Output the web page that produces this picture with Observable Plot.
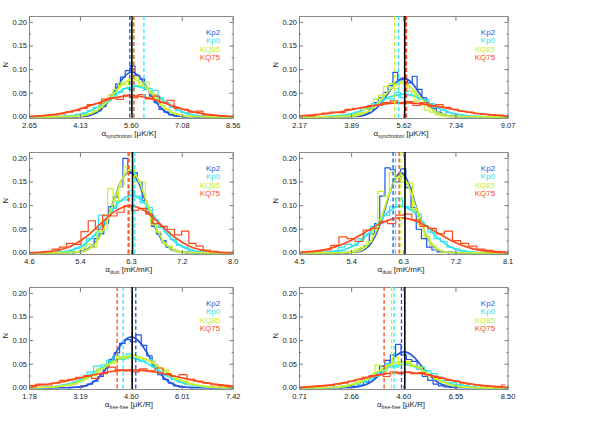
<!DOCTYPE html>
<html><head><meta charset="utf-8">
<script src="https://cdn.jsdelivr.net/npm/d3@7"></script>
<script src="https://cdn.jsdelivr.net/npm/@observablehq/plot@0.6"></script>
<style>
body{margin:0;background:#fff;}
#fig{position:relative;width:598px;height:423px;font-family:"Liberation Sans",Arial,sans-serif;overflow:hidden;}
#fig svg{position:absolute;}
.xlab{position:absolute;font-size:8px;line-height:10px;color:#222;white-space:nowrap;transform:translateX(-50%);}
.xlab sub{font-size:5px;vertical-align:-1.5px;line-height:0;}
</style></head><body><div id="fig"></div><script>
// ---------- series ----------
const seriesNames = ["Kp2", "Kp0", "KQ85", "KQ75"];
const seriesColors = ["#1f55e6", "#2fe4ee", "#c8f22c", "#ff4a1c"];

// ---------- shared y axis ----------
const yDomain = [-0.0035, 0.2125];
const yTicks = [0, 0.05, 0.10, 0.15, 0.20];
const yTickLabels = ["0.00", "0.05", "0.10", "0.15", "0.20"];
const yMinorTicks = [0.025, 0.075, 0.125, 0.175];

// ---------- x axes ----------
const xDomains = [[2.65, 8.56], [2.17, 9.07], [4.6, 8.0], [4.5, 8.1], [1.78, 7.42], [0.71, 8.50]];
const xTicks = [
  [2.65, 4.1275, 5.605, 7.0825, 8.56],
  [2.17, 3.895, 5.62, 7.345, 9.07],
  [4.6, 5.45, 6.3, 7.15, 8.0],
  [4.5, 5.4, 6.3, 7.2, 8.1],
  [1.78, 3.19, 4.60, 6.01, 7.42],
  [0.71, 2.6575, 4.605, 6.5525, 8.50]
];
const xTickLabels = [
  ["2.65", "4.13", "5.60", "7.08", "8.56"],
  ["2.17", "3.89", "5.62", "7.34", "9.07"],
  ["4.6", "5.4", "6.3", "7.2", "8.0"],
  ["4.5", "5.4", "6.3", "7.2", "8.1"],
  ["1.78", "3.19", "4.60", "6.01", "7.42"],
  ["0.71", "2.66", "4.60", "6.55", "8.50"]
];
const xTitleSymbol = ["α", "α", "α", "α", "α", "α"];
const xTitleSub = ["synchrotron", "synchrotron", "dust", "dust", "free-free", "free-free"];
const xTitleUnit = ["[μK/K]", "[μK/K]", "[mK/mK]", "[mK/mK]", "[μK/R]", "[μK/R]"];

// ---------- true value (solid black) and series means (dashed), order Kp2, Kp0, KQ85, KQ75 ----------
const truthValues = [5.62, 5.65, 6.32, 6.32, 4.623, 4.642];
const syncL_means = [5.56, 5.97, 5.65, 5.68];
const syncR_means = [5.66, 5.45, 5.32, 5.71];
const dustL_means = [6.258, 6.358, 6.25, 6.248];
const dustR_means = [6.115, 6.157, 6.25, 6.22];
const ffL_means = [4.723, 4.374, 4.61, 4.208];
const ffR_means = [4.519, 4.243, 4.145, 3.869];

// ---------- histogram bins: first bin centre and bin width per series ----------
const syncL_binStart = [3.96, 3.23, 3.80, 2.75];
const syncL_binWidth = [0.14, 0.17, 0.15, 0.21];
const syncR_binStart = [3.74, 2.94, 3.34, 2.30];
const syncR_binWidth = [0.16, 0.19, 0.17, 0.25];
const dustL_binStart = [5.32, 5.00, 5.32, 4.80];
const dustL_binWidth = [0.08, 0.10, 0.09, 0.12];
const dustR_binStart = [5.30, 4.90, 5.20, 4.55];
const dustR_binWidth = [0.09, 0.11, 0.10, 0.14];
const ffL_binStart = [2.85, 2.20, 2.30, 1.85];
const ffL_binWidth = [0.15, 0.18, 0.18, 0.22];
const ffR_binStart = [2.20, 1.90, 2.10, 0.84];
const ffR_binWidth = [0.20, 0.24, 0.22, 0.26];

// ---------- histogram values ----------
const syncL_hist_Kp2 = [0,.001,.002,.004,.008,.013,.022,.036,.047,.070,.084,.098,.108,.088,.080,.058,.044,.030,.016,.010,.004,.002,.001,0];
const syncL_hist_Kp0 = [0,.0004,.001,.002,.003,.005,.008,.013,.020,.030,.034,.042,.052,.060,.058,.066,.062,.060,.056,.040,.030,.020,.013,.009,.005,.003,.002,.001,0];
const syncL_hist_KQ85 = [0,.001,.002,.004,.007,.012,.020,.034,.046,.058,.072,.068,.078,.084,.066,.074,.050,.038,.024,.016,.008,.005,.002,.001,0];
const syncL_hist_KQ75 = [.001,.002,.003,.004,.006,.010,.013,.018,.026,.028,.038,.040,.037,.046,.040,.047,.038,.044,.030,.035,.018,.016,.010,.012,.004,.003,.002,.001];

const syncR_hist_Kp2 = [0,.001,.002,.005,.008,.016,.030,.040,.052,.066,.094,.078,.080,.072,.086,.058,.040,.028,.018,.010,.005,.002,.001,0];
const syncR_hist_Kp0 = [.0004,.001,.002,.003,.004,.006,.010,.015,.018,.028,.030,.040,.038,.052,.040,.054,.046,.038,.036,.028,.020,.014,.009,.006,.004,.002,.001,.0008,.0004];
const syncR_hist_KQ85 = [0,.0005,.001,.002,.005,.009,.016,.022,.038,.046,.064,.070,.060,.074,.064,.054,.034,.026,.014,.010,.004,.002,.001,.0004,0];
const syncR_hist_KQ75 = [.003,.002,.005,.008,.010,.009,.016,.018,.020,.024,.025,.030,.034,.028,.032,.024,.030,.022,.026,.020,.016,.012,.010,.007,.005,.004,.003,.001];

const dustL_hist_Kp2 = [0,.002,.004,.008,.012,.030,.040,.062,.098,.118,.140,.200,.168,.170,.150,.110,.084,.056,.040,.026,.012,.006,.003,.001,0];
const dustL_hist_Kp0 = [.001,.002,.003,.006,.010,.014,.030,.036,.080,.078,.094,.110,.112,.132,.120,.106,.096,.070,.054,.044,.028,.016,.012,.005,.003,.001];
const dustL_hist_KQ85 = [.001,.002,.010,.018,.012,.045,.050,.136,.110,.140,.182,.176,.150,.150,.090,.060,.044,.020,.014,.006,.002,0];
const dustL_hist_KQ75 = [.002,.003,.008,.012,.020,.018,.045,.068,.050,.080,.078,.086,.100,.090,.094,.082,.062,.056,.050,.038,.046,.020,.014,.006,.003,.001];

const dustR_hist_Kp2 = [0,.001,.003,.008,.014,.040,.062,.120,.180,.176,.150,.178,.138,.096,.050,.030,.012,.006,.002,.001,0];
const dustR_hist_Kp0 = [.001,.002,.004,.012,.018,.016,.030,.040,.056,.062,.080,.098,.116,.098,.092,.082,.058,.044,.030,.024,.012,.008,.004,.002,.001];
const dustR_hist_KQ85 = [0,.001,.003,.008,.012,.024,.050,.130,.120,.170,.160,.150,.148,.090,.060,.034,.016,.006,.002,0];
const dustR_hist_KQ75 = [.002,.003,.004,.006,.016,.034,.030,.024,.048,.052,.066,.062,.080,.082,.070,.056,.052,.040,.046,.026,.020,.014,.008,.005,.003,.002];

const ffL_hist_Kp2 = [0,.001,.002,.004,.008,.014,.024,.042,.060,.074,.094,.102,.098,.112,.090,.068,.048,.028,.018,.010,.004,.002,.001,0];
const ffL_hist_Kp0 = [.001,.002,.003,.006,.008,.012,.018,.034,.046,.048,.058,.068,.060,.072,.062,.056,.060,.044,.030,.026,.018,.012,.008,.005,.003,.002,.001];
const ffL_hist_KQ85 = [.001,.002,.004,.005,.008,.014,.022,.026,.040,.050,.052,.066,.062,.070,.064,.060,.056,.042,.038,.026,.018,.014,.008,.005,.003,.002,.001];
const ffL_hist_KQ75 = [.002,.008,.006,.010,.016,.018,.022,.026,.020,.030,.044,.038,.036,.034,.040,.036,.042,.030,.024,.028,.018,.014,.010,.006,.004,.002];

const ffR_hist_Kp2 = [0,.001,.002,.003,.006,.012,.018,.032,.046,.058,.070,.092,.070,.060,.056,.040,.024,.016,.008,.004,.002,.001,0];
const ffR_hist_Kp0 = [.001,.002,.003,.005,.008,.012,.018,.024,.034,.052,.044,.050,.052,.046,.044,.036,.030,.022,.016,.011,.007,.004,.002,.001,0];
const ffR_hist_KQ85 = [.001,.002,.004,.008,.012,.018,.024,.048,.036,.048,.064,.050,.056,.046,.044,.032,.024,.018,.012,.007,.004,.002,.001];
const ffR_hist_KQ75 = [.001,.002,.003,.004,.005,.008,.010,.014,.018,.022,.026,.028,.024,.034,.030,.034,.030,.032,.028,.022,.020,.016,.014,.010,.008,.006,.004,.003,.002,.006];

// ---------- fitted curves, [x, N] points ----------
const syncL_fit_Kp2 = [[2.65,0],[3.505,0],[4.21,.0011],[4.445,.0042],[4.68,.0129],[4.915,.0308],[5.15,.0576],[5.385,.0838],[5.62,.095],[5.855,.0838],[6.09,.0576],[6.325,.0308],[6.56,.0129],[6.795,.0042],[7.03,.0011],[7.735,0],[8.56,0]];
const syncL_fit_Kp0 = [[2.65,0],[3.56,.0007],[3.92,.0029],[4.28,.0088],[4.64,.0211],[5.0,.0394],[5.36,.0574],[5.72,.065],[6.08,.0574],[6.44,.0394],[6.8,.0211],[7.16,.0088],[7.52,.0029],[7.88,.0007],[8.56,0]];
const syncL_fit_KQ85 = [[2.65,0],[3.175,0],[4.0,.0009],[4.275,.0035],[4.55,.0108],[4.825,.026],[5.1,.0485],[5.375,.0706],[5.65,.08],[5.925,.0706],[6.2,.0485],[6.475,.026],[6.75,.0108],[7.025,.0035],[7.3,.0009],[8.125,0],[8.56,0]];
const syncL_fit_KQ75 = [[1.925,.0001],[2.45,.0005],[2.975,.002],[3.5,.0061],[4.025,.0146],[4.55,.0273],[5.075,.0397],[5.6,.045],[6.125,.0397],[6.65,.0273],[7.175,.0146],[7.7,.0061],[8.225,.002],[8.75,.0005],[9.275,.0001]];

const syncR_fit_Kp2 = [[2.17,0],[3.28,0],[4.06,.0009],[4.32,.0036],[4.58,.0111],[4.84,.0266],[5.1,.0497],[5.36,.0724],[5.62,.082],[5.88,.0724],[6.14,.0497],[6.4,.0266],[6.66,.0111],[6.92,.0036],[7.18,.0009],[7.96,0],[9.07,0]];
const syncR_fit_Kp0 = [[1.775,0],[2.625,.0001],[3.05,.0005],[3.475,.0021],[3.9,.0065],[4.325,.0156],[4.75,.0291],[5.175,.0424],[5.6,.048],[6.025,.0424],[6.45,.0291],[6.875,.0156],[7.3,.0065],[7.725,.0021],[8.15,.0005],[8.575,.0001],[9.07,0]];
const syncR_fit_KQ85 = [[2.17,0],[2.94,0],[3.81,.0008],[4.1,.0032],[4.39,.0097],[4.68,.0234],[4.97,.0437],[5.26,.0635],[5.55,.072],[5.84,.0635],[6.13,.0437],[6.42,.0234],[6.71,.0097],[7.0,.0032],[7.29,.0008],[8.16,0],[9.07,0]];
const syncR_fit_KQ75 = [[0.525,.0001],[1.25,.0003],[1.975,.0013],[2.7,.0041],[3.425,.0097],[4.15,.0182],[4.875,.0265],[5.6,.030],[6.325,.0265],[7.05,.0182],[7.775,.0097],[8.5,.0041],[9.225,.0013],[9.95,.0003]];

const dustL_fit_Kp2 = [[4.6,0],[5.01,0],[5.43,.0019],[5.57,.0076],[5.71,.0233],[5.85,.0558],[5.99,.1043],[6.13,.1518],[6.27,.172],[6.41,.1518],[6.55,.1043],[6.69,.0558],[6.83,.0233],[6.97,.0076],[7.11,.0019],[7.53,0],[8.0,0]];
const dustL_fit_Kp0 = [[4.5,0],[5.1,.0014],[5.3,.0054],[5.5,.0165],[5.7,.0396],[5.9,.074],[6.1,.1077],[6.3,.122],[6.5,.1077],[6.7,.074],[6.9,.0396],[7.1,.0165],[7.3,.0054],[7.5,.0014],[8.1,0]];
const dustL_fit_KQ85 = [[4.6,0],[5.02,0],[5.44,.0019],[5.58,.0077],[5.72,.0237],[5.86,.0568],[6.0,.1061],[6.14,.1544],[6.28,.175],[6.42,.1544],[6.56,.1061],[6.7,.0568],[6.84,.0237],[6.98,.0077],[7.12,.0019],[7.54,0],[8.0,0]];
const dustL_fit_KQ75 = [[4.03,0],[4.53,.0002],[4.78,.0011],[5.03,.0044],[5.28,.0135],[5.53,.0325],[5.78,.0607],[6.03,.0883],[6.28,.1],[6.53,.0883],[6.78,.0607],[7.03,.0325],[7.28,.0135],[7.53,.0044],[7.78,.0011],[8.03,.0002]];

const dustR_fit_Kp2 = [[4.5,0],[5.125,0],[5.5,.0019],[5.625,.0075],[5.75,.023],[5.875,.0552],[6.0,.1031],[6.125,.15],[6.25,.17],[6.375,.15],[6.5,.1031],[6.625,.0552],[6.75,.023],[6.875,.0075],[7.0,.0019],[7.375,0],[8.1,0]];
const dustR_fit_Kp0 = [[4.36,0],[4.99,.0011],[5.2,.0043],[5.41,.0134],[5.62,.0321],[5.83,.06],[6.04,.0874],[6.25,.099],[6.46,.0874],[6.67,.06],[6.88,.0321],[7.09,.0134],[7.3,.0043],[7.51,.0011],[8.14,0]];
const dustR_fit_KQ85 = [[4.5,0],[5.07,0],[5.46,.0018],[5.59,.0072],[5.72,.0222],[5.85,.0532],[5.98,.0995],[6.11,.1447],[6.24,.164],[6.37,.1447],[6.5,.0995],[6.63,.0532],[6.76,.0222],[6.89,.0072],[7.02,.0018],[7.41,0],[8.1,0]];
const dustR_fit_KQ75 = [[3.55,0],[4.15,.0002],[4.45,.0008],[4.75,.0032],[5.05,.01],[5.35,.024],[5.65,.0449],[5.95,.0653],[6.25,.074],[6.55,.0653],[6.85,.0449],[7.15,.024],[7.45,.01],[7.75,.0032],[8.05,.0008],[8.35,.0002]];

const ffL_fit_Kp2 = [[1.78,0],[2.35,0],[3.1,.0012],[3.35,.0047],[3.6,.0146],[3.85,.0351],[4.1,.0655],[4.35,.0953],[4.6,.108],[4.85,.0953],[5.1,.0655],[5.35,.0351],[5.6,.0146],[5.85,.0047],[6.1,.0012],[6.85,0],[7.42,0]];
const ffL_fit_Kp0 = [[0.9,0],[1.7,.0001],[2.1,.0007],[2.5,.0029],[2.9,.0088],[3.3,.0211],[3.7,.0394],[4.1,.0574],[4.5,.065],[4.9,.0574],[5.3,.0394],[5.7,.0211],[6.1,.0088],[6.5,.0029],[6.9,.0007],[7.3,.0001],[8.1,0]];
const ffL_fit_KQ85 = [[1.02,0],[1.82,.0001],[2.22,.0008],[2.62,.003],[3.02,.0092],[3.42,.0221],[3.82,.0412],[4.22,.06],[4.62,.068],[5.02,.06],[5.42,.0412],[5.82,.0221],[6.22,.0092],[6.62,.003],[7.02,.0008],[7.42,.0001],[8.22,0]];
const ffL_fit_KQ75 = [[0.05,.0001],[0.7,.0004],[1.35,.0017],[2.0,.0051],[2.65,.0123],[3.3,.023],[3.95,.0335],[4.6,.038],[5.25,.0335],[5.9,.023],[6.55,.0123],[7.2,.0051],[7.85,.0017],[8.5,.0004]];

const ffR_fit_Kp2 = [[0.71,0],[1.695,0],[2.67,.0008],[2.995,.0033],[3.32,.0103],[3.645,.0247],[3.97,.0461],[4.295,.0671],[4.62,.076],[4.945,.0671],[5.27,.0461],[5.595,.0247],[5.92,.0103],[6.245,.0033],[6.57,.0008],[7.545,0],[8.5,0]];
const ffR_fit_Kp0 = [[0.275,0],[1.225,.0001],[1.7,.0006],[2.175,.0022],[2.65,.0068],[3.125,.0162],[3.6,.0303],[4.075,.0441],[4.55,.05],[5.025,.0441],[5.5,.0303],[5.975,.0162],[6.45,.0068],[6.925,.0022],[7.4,.0006],[7.875,.0001],[8.825,0]];
const ffR_fit_KQ85 = [[0.45,0],[1.35,.0001],[1.8,.0006],[2.25,.0024],[2.7,.0074],[3.15,.0179],[3.6,.0334],[4.05,.0485],[4.5,.055],[4.95,.0485],[5.4,.0334],[5.85,.0179],[6.3,.0074],[6.75,.0024],[7.2,.0006],[7.65,.0001],[8.55,0]];
const ffR_fit_KQ75 = [[-0.65,.0001],[0.1,.0004],[0.85,.0014],[1.6,.0045],[2.35,.0107],[3.1,.02],[3.85,.0291],[4.6,.033],[5.35,.0291],[6.1,.02],[6.85,.0107],[7.6,.0045],[8.35,.0014],[9.1,.0004]];

// ---------- assemble panels ----------
const panels = [
  {hists: [syncL_hist_Kp2, syncL_hist_Kp0, syncL_hist_KQ85, syncL_hist_KQ75], fits: [syncL_fit_Kp2, syncL_fit_Kp0, syncL_fit_KQ85, syncL_fit_KQ75], binStart: syncL_binStart, binWidth: syncL_binWidth, means: syncL_means},
  {hists: [syncR_hist_Kp2, syncR_hist_Kp0, syncR_hist_KQ85, syncR_hist_KQ75], fits: [syncR_fit_Kp2, syncR_fit_Kp0, syncR_fit_KQ85, syncR_fit_KQ75], binStart: syncR_binStart, binWidth: syncR_binWidth, means: syncR_means},
  {hists: [dustL_hist_Kp2, dustL_hist_Kp0, dustL_hist_KQ85, dustL_hist_KQ75], fits: [dustL_fit_Kp2, dustL_fit_Kp0, dustL_fit_KQ85, dustL_fit_KQ75], binStart: dustL_binStart, binWidth: dustL_binWidth, means: dustL_means},
  {hists: [dustR_hist_Kp2, dustR_hist_Kp0, dustR_hist_KQ85, dustR_hist_KQ75], fits: [dustR_fit_Kp2, dustR_fit_Kp0, dustR_fit_KQ85, dustR_fit_KQ75], binStart: dustR_binStart, binWidth: dustR_binWidth, means: dustR_means},
  {hists: [ffL_hist_Kp2, ffL_hist_Kp0, ffL_hist_KQ85, ffL_hist_KQ75], fits: [ffL_fit_Kp2, ffL_fit_Kp0, ffL_fit_KQ85, ffL_fit_KQ75], binStart: ffL_binStart, binWidth: ffL_binWidth, means: ffL_means},
  {hists: [ffR_hist_Kp2, ffR_hist_Kp0, ffR_hist_KQ85, ffR_hist_KQ75], fits: [ffR_fit_Kp2, ffR_fit_Kp0, ffR_fit_KQ85, ffR_fit_KQ75], binStart: ffR_binStart, binWidth: ffR_binWidth, means: ffR_means}
];

// ---------- layout (pixels) ----------
const colFrameLeft = [29, 298.7];
const colFrameWidth = [203.7, 208.6];
const rowFrameTop = [16, 152, 287];
const frameHeight = 102;
const mL = 29, mT = 16, mB = 22, mR = 12;

const fig = document.getElementById("fig");
const fontStack = "'Liberation Sans', Arial, sans-serif";

panels.forEach((p, k) => {
  const col = k % 2, row = Math.floor(k / 2);
  const fw = colFrameWidth[col];
  const W = mL + fw + mR, H = mT + frameHeight + mB;
  const tickLab = xTickLabels[k];
  const marks = [];
  marks.push(Plot.frame({stroke: "#8a8a8a", strokeWidth: 1}));
  p.hists.forEach((n, i) => {
    const pts = n.map((v, j) => [p.binStart[i] + j * p.binWidth[i], v]);
    marks.push(Plot.line(pts, {x: d => d[0], y: d => d[1], curve: "step", stroke: seriesColors[i], strokeWidth: 1.2, clip: true}));
    marks.push(Plot.line(p.fits[i], {x: d => d[0], y: d => d[1], curve: "monotone-x", stroke: seriesColors[i], strokeWidth: 1.7, clip: true}));
  });
  p.means.forEach((m, i) => {
    marks.push(Plot.ruleX([m], {x: d => d, stroke: seriesColors[i], strokeWidth: 1.3, strokeDasharray: "4,2.5"}));
  });
  marks.push(Plot.ruleX([truthValues[k]], {x: d => d, stroke: "#000", strokeWidth: 1.6}));
  // axes: inward ticks on all four sides
  marks.push(Plot.axisX(xTicks[k], {anchor: "bottom", tickSize: -4, tickFormat: () => "", stroke: "#777", label: null}));
  marks.push(Plot.axisX(xTicks[k], {anchor: "top", tickSize: -4, tickFormat: () => "", stroke: "#777", label: null}));
  marks.push(Plot.axisX(xTicks[k], {anchor: "bottom", tickSize: 0, tickPadding: 4, tickFormat: (d, i) => tickLab[i], fill: "#222", label: null}));
  marks.push(Plot.axisY(yTicks, {anchor: "left", tickSize: -4, tickFormat: () => "", stroke: "#777", label: null}));
  marks.push(Plot.axisY(yTicks, {anchor: "right", tickSize: -4, tickFormat: () => "", stroke: "#777", label: null}));
  marks.push(Plot.axisY(yMinorTicks, {anchor: "left", tickSize: -2, tickFormat: () => "", stroke: "#777", label: null}));
  marks.push(Plot.axisY(yMinorTicks, {anchor: "right", tickSize: -2, tickFormat: () => "", stroke: "#777", label: null}));
  marks.push(Plot.axisY(yTicks, {anchor: "left", tickSize: 0, tickPadding: 2.5, tickFormat: (d, i) => yTickLabels[i], fill: "#222", label: null}));
  marks.push(Plot.text(["N"], {frameAnchor: "left", dx: -23.5, rotate: -90, fontSize: 7.5, fill: "#222"}));
  seriesNames.forEach((s, i) => {
    marks.push(Plot.text([s], {frameAnchor: "top-right", dx: -13, dy: 16.3 + 8.1 * i, textAnchor: "end", lineAnchor: "middle", fill: seriesColors[i], fontSize: 8}));
  });
  const svg = Plot.plot({
    width: W, height: H,
    marginLeft: mL, marginRight: mR, marginTop: mT, marginBottom: mB,
    x: {domain: xDomains[k]},
    y: {domain: yDomain},
    style: {fontSize: "7.5px", fontFamily: fontStack, color: "#222", background: "transparent", overflow: "visible"},
    marks
  });
  svg.style.left = (colFrameLeft[col] - mL) + "px";
  svg.style.top = (rowFrameTop[row] - mT) + "px";
  fig.appendChild(svg);

  const lab = document.createElement("div");
  lab.className = "xlab";
  lab.innerHTML = `${xTitleSymbol[k]}<sub>${xTitleSub[k]}</sub> ${xTitleUnit[k]}`;
  lab.style.left = (colFrameLeft[col] + fw / 2 - 2) + "px";
  lab.style.top = (rowFrameTop[row] + frameHeight + 11) + "px";
  fig.appendChild(lab);
});
</script></body></html>
